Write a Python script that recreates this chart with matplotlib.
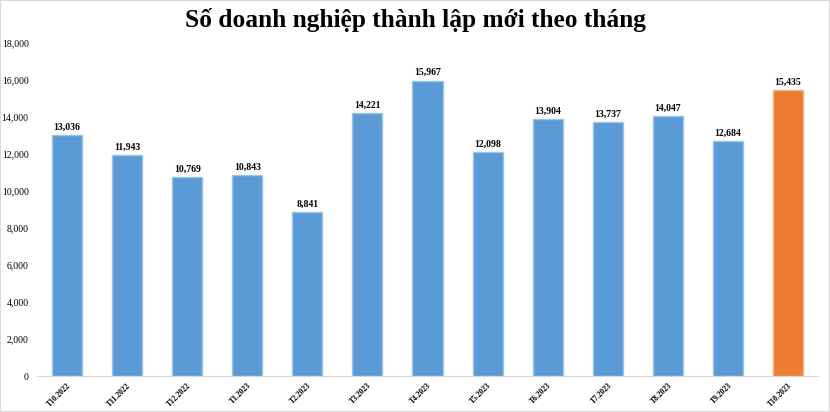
import matplotlib
matplotlib.use("Agg")
import matplotlib.pyplot as plt
from matplotlib.patches import Rectangle
from matplotlib.ticker import FuncFormatter, MultipleLocator

categories = ["T10.2022", "T11.2022", "T12.2022", "T1.2023", "T2.2023", "T3.2023",
              "T4.2023", "T5.2023", "T6.2023", "T7.2023", "T8.2023", "T9.2023", "T10.2023"]
values = [13036, 11943, 10769, 10843, 8841, 14221, 15967, 12098, 13904, 13737, 14047, 12684, 15435]
title = "Số doanh nghiệp thành lập mới theo tháng"

blue = "#5B9BD5"
orange = "#ED7D31"
colors = [blue] * (len(values) - 1) + [orange]
edges = ["#9DC3E6"] * (len(values) - 1) + ["#F4B183"]

plt.rcParams['font.family'] = ['Liberation Serif', 'DejaVu Serif']

fig = plt.figure(figsize=(8.3, 4.12), dpi=100)
ax = fig.add_axes([37/830, 1 - 376/412, 781/830, (376-43)/412])

x = list(range(len(categories)))
bars = ax.bar(x, values, width=0.5, color=colors, edgecolor=edges, linewidth=1.0)
for xi, v in zip(x, values):
    ax.text(xi, v + 180, f"{v:,}", ha="center", va="bottom", fontsize=7, fontweight="bold")

ax.set_xlim(-0.5, len(categories) - 0.5)
ax.set_ylim(0, 18000)
ax.yaxis.set_major_locator(MultipleLocator(2000))
ax.yaxis.set_major_formatter(FuncFormatter(lambda v, p: f"{int(v):,}"))
ax.set_xticks(x)
ax.set_xticklabels(categories, rotation=45, ha="right", rotation_mode="anchor",
                   fontsize=5.5, fontweight="bold")
ax.tick_params(axis="y", labelsize=7, length=0, pad=6)
ax.tick_params(axis="x", length=0, pad=4)
for s in ["top", "right", "left"]:
    ax.spines[s].set_visible(False)
ax.spines["bottom"].set_color("#D9D9D9")

fig.text(415/830, 1 - 20/412, title, ha="center", va="center", fontsize=18.3, fontweight="bold")
fig.patches.append(Rectangle((0, 0), 1, 1, transform=fig.transFigure, fill=False,
                             edgecolor="#D9D9D9", linewidth=1.5))

fig.savefig("out.png", dpi=100)
